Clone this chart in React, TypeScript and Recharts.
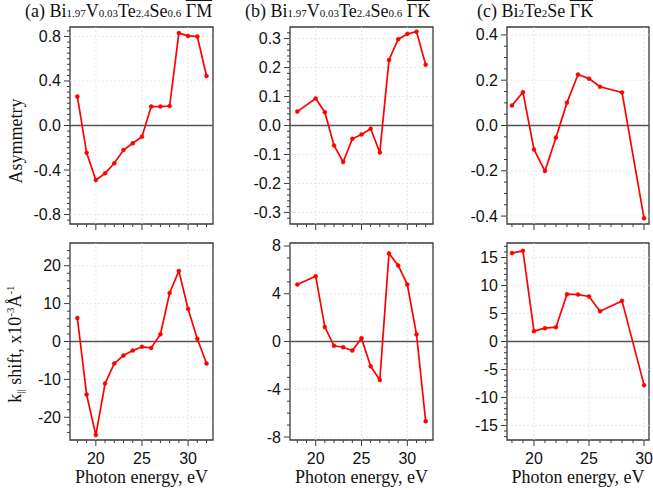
import React from 'react'
import { LineChart, Line, XAxis, YAxis, ReferenceLine, ReferenceArea } from 'recharts'

// Photon energies (eV) per sample
const ENERGY_A = [18, 19, 20, 21, 22, 23, 24, 25, 26, 27, 28, 29, 30, 31, 32]
const ENERGY_B = [18, 20, 21, 22, 23, 24, 25, 26, 27, 28, 29, 30, 31, 32]
const ENERGY_C = [18, 19, 20, 21, 22, 23, 24, 25, 26, 28, 30]

// Asymmetry (top row)
const ASYM_A = [0.26, -0.245, -0.49, -0.43, -0.34, -0.22, -0.16, -0.1, 0.17, 0.17, 0.175, 0.83, 0.805, 0.8, 0.445]
const ASYM_B = [0.048, 0.093, 0.046, -0.069, -0.126, -0.046, -0.031, -0.011, -0.093, 0.226, 0.298, 0.316, 0.324, 0.21]
const ASYM_C = [0.088, 0.147, -0.106, -0.201, -0.053, 0.101, 0.225, 0.207, 0.171, 0.146, -0.41]

// k shift, x10^-3 1/A (bottom row)
const SHIFT_A = [6.2, -14.0, -24.7, -11.1, -5.8, -3.7, -2.4, -1.4, -1.7, 1.9, 12.8, 18.6, 8.6, 0.7, -5.8]
const SHIFT_B = [4.77, 5.47, 1.21, -0.36, -0.48, -0.76, 0.28, -2.08, -3.23, 7.38, 6.37, 4.77, 0.59, -6.68]
const SHIFT_C = [15.8, 16.2, 1.85, 2.38, 2.56, 8.45, 8.39, 8.04, 5.42, 7.26, -7.8]

// labelled tick values
const X_MAJOR = [20, 25, 30]
const ASYM_TICKS_A = [-0.8, -0.4, 0, 0.4, 0.8]
const ASYM_TICKS_B = [-0.3, -0.2, -0.1, 0, 0.1, 0.2, 0.3]
const ASYM_TICKS_C = [-0.4, -0.2, 0, 0.2, 0.4]
const SHIFT_TICKS_A = [-20, -10, 0, 10, 20]
const SHIFT_TICKS_B = [-8, -4, 0, 4, 8]
const SHIFT_TICKS_C = [-15, -10, -5, 0, 5, 10, 15]

const SERIF = '"Liberation Serif", "Times New Roman", serif'
const SANS = '"Liberation Sans", Arial, sans-serif'
const AXIS = '#3a3a3a'
const RED = '#ff0000'

const PAD_L = 60
const PAD_T = 10
const PAD_B = 30
const PAD_R = 10

const steps = (from: number, to: number, step: number) => {
  const out: number[] = []
  const n = Math.round((to - from) / step)
  for (let i = 0; i <= n; i++) out.push(+(from + i * step).toFixed(4))
  return out
}

const near = (v: number, list: number[]) => list.some((m) => Math.abs(m - v) < 1e-6)

interface PanelProps {
  left: number
  top: number
  w: number
  h: number
  xs: number[]
  ys: number[]
  xDomain: [number, number]
  yDomain: [number, number]
  yMajor: number[]
  yMinor: number[]
  xMinor: number[]
  digits: number
  showXLabels: boolean
}

const Panel = (p: PanelProps) => {
  const data = p.xs.map((x, i) => ({ x, y: p.ys[i] }))
  const bottom = PAD_T + p.h

  const YTick = (props: any) => {
    const { y, payload } = props
    const v = payload.value as number
    const major = near(v, p.yMajor)
    return (
      <g>
        <line x1={PAD_L} x2={PAD_L - (major ? 6 : 3)} y1={y} y2={y} stroke={AXIS} strokeWidth={1} />
        {major && (
          <text x={PAD_L - 9} y={y} textAnchor="end" dominantBaseline="central" fontFamily={SANS} fontSize={16} fill="#111">
            {v.toFixed(p.digits)}
          </text>
        )}
      </g>
    )
  }

  const XTick = (props: any) => {
    const { x, payload } = props
    const v = payload.value as number
    const major = near(v, X_MAJOR)
    return (
      <g>
        <line x1={x} x2={x} y1={bottom} y2={bottom + (major ? 6 : 3)} stroke={AXIS} strokeWidth={1} />
        {major && p.showXLabels && (
          <text x={x} y={bottom + 18} textAnchor="middle" dominantBaseline="central" fontFamily={SANS} fontSize={16} fill="#111">
            {v}
          </text>
        )}
      </g>
    )
  }

  return (
    <div style={{ position: 'absolute', left: p.left - PAD_L, top: p.top - PAD_T }}>
      <LineChart
        width={p.w + PAD_L + PAD_R}
        height={p.h + PAD_T + PAD_B}
        data={data}
        margin={{ top: PAD_T, right: PAD_R, left: 0, bottom: 0 }}
      >
        <XAxis
          dataKey="x"
          type="number"
          domain={p.xDomain}
          allowDataOverflow
          ticks={p.xMinor}
          interval={0}
          height={PAD_B}
          axisLine={false}
          tickLine={false}
          tick={(props: any) => <XTick {...props} />}
        />
        <YAxis
          type="number"
          domain={p.yDomain}
          allowDataOverflow
          ticks={p.yMinor}
          interval={0}
          width={PAD_L}
          axisLine={false}
          tickLine={false}
          tick={(props: any) => <YTick {...props} />}
        />
        {X_MAJOR.map((v) => (
          <ReferenceLine key={`gx${v}`} x={v} stroke="#e2e2e2" strokeDasharray="2 2" strokeWidth={0.8} />
        ))}
        {p.yMajor
          .filter((v) => v !== 0)
          .map((v) => (
            <ReferenceLine key={`gy${v}`} y={v} stroke="#e2e2e2" strokeDasharray="2 2" strokeWidth={0.8} />
          ))}
        <ReferenceLine y={0} stroke="#555" strokeWidth={1.3} />
        <Line
          type="linear"
          dataKey="y"
          stroke={RED}
          strokeWidth={1.7}
          dot={{ r: 2, fill: RED, stroke: RED, strokeWidth: 0.5 }}
          isAnimationActive={false}
        />
        <ReferenceArea
          x1={p.xDomain[0]}
          x2={p.xDomain[1]}
          y1={p.yDomain[0]}
          y2={p.yDomain[1]}
          fill="none"
          stroke={AXIS}
          strokeWidth={1.3}
          ifOverflow="visible"
        />
      </LineChart>
    </div>
  )
}

const sub = (t: string) => <span style={{ fontSize: 11 }}>{t}</span>
const bar = (t: string) => <span style={{ textDecoration: 'overline' }}>{t}</span>

const Title = ({ left, children }: { left: number; children: React.ReactNode }) => (
  <div
    style={{
      position: 'absolute',
      left,
      top: 2,
      fontFamily: SERIF,
      fontSize: 18,
      lineHeight: '18px',
      whiteSpace: 'nowrap',
      color: '#111',
    }}
  >
    {children}
  </div>
)

const COLS = [70, 290, 507]
const WIDTHS = [143, 143, 142]
const ROW_TOP = 27
const ROW_BOTTOM = 243
const ROW_H = 197

export default function App() {
  return (
    <div style={{ position: 'absolute', left: 0, top: 0, width: 653, height: 490, background: '#fff' }}>
      <Title left={25}>
        (a) Bi{sub('1.97')}V{sub('0.03')}Te{sub('2.4')}Se{sub('0.6')} {bar('ΓM')}
      </Title>
      <Title left={245}>
        (b) Bi{sub('1.97')}V{sub('0.03')}Te{sub('2.4')}Se{sub('0.6')} {bar('ΓK')}
      </Title>
      <Title left={477}>
        (c) Bi{sub('2')}Te{sub('2')}Se {bar('ΓK')}
      </Title>

      <Panel left={COLS[0]} top={ROW_TOP} w={WIDTHS[0]} h={ROW_H} xs={ENERGY_A} ys={ASYM_A}
        xDomain={[17.2, 32.7]} yDomain={[-0.885, 0.885]} yMajor={ASYM_TICKS_A}
        yMinor={steps(-0.85, 0.85, 0.05)} xMinor={steps(18, 32, 1)} digits={1} showXLabels={false} />
      <Panel left={COLS[1]} top={ROW_TOP} w={WIDTHS[1]} h={ROW_H} xs={ENERGY_B} ys={ASYM_B}
        xDomain={[17.2, 32.8]} yDomain={[-0.34, 0.34]} yMajor={ASYM_TICKS_B}
        yMinor={steps(-0.32, 0.32, 0.02)} xMinor={steps(18, 32, 1)} digits={1} showXLabels={false} />
      <Panel left={COLS[2]} top={ROW_TOP} w={WIDTHS[2]} h={ROW_H} xs={ENERGY_C} ys={ASYM_C}
        xDomain={[17.55, 30.45]} yDomain={[-0.435, 0.435]} yMajor={ASYM_TICKS_C}
        yMinor={steps(-0.4, 0.4, 0.05)} xMinor={steps(18, 30, 1)} digits={1} showXLabels={false} />

      <Panel left={COLS[0]} top={ROW_BOTTOM} w={WIDTHS[0]} h={ROW_H} xs={ENERGY_A} ys={SHIFT_A}
        xDomain={[17.2, 32.7]} yDomain={[-26, 26]} yMajor={SHIFT_TICKS_A}
        yMinor={steps(-24, 24, 2)} xMinor={steps(18, 32, 1)} digits={0} showXLabels />
      <Panel left={COLS[1]} top={ROW_BOTTOM} w={WIDTHS[1]} h={ROW_H} xs={ENERGY_B} ys={SHIFT_B}
        xDomain={[17.2, 32.8]} yDomain={[-8.25, 8.25]} yMajor={SHIFT_TICKS_B}
        yMinor={steps(-8, 8, 1)} xMinor={steps(18, 32, 1)} digits={0} showXLabels />
      <Panel left={COLS[2]} top={ROW_BOTTOM} w={WIDTHS[2]} h={ROW_H} xs={ENERGY_C} ys={SHIFT_C}
        xDomain={[17.55, 30.45]} yDomain={[-17.6, 17.6]} yMajor={SHIFT_TICKS_C}
        yMinor={steps(-17, 17, 1)} xMinor={steps(18, 30, 1)} digits={0} showXLabels />

      <svg width={653} height={490} style={{ position: 'absolute', left: 0, top: 0, pointerEvents: 'none' }}>
        <text transform="translate(22,141) rotate(-90)" textAnchor="middle" fontFamily={SERIF} fontSize={18} fill="#111">
          Asymmetry
        </text>
        <text transform="translate(21,344) rotate(-90)" textAnchor="middle" fontFamily={SERIF} fontSize={18} fill="#111">
          k
          <tspan fontSize={11} dy={3}>||</tspan>
          <tspan dy={-3}> shift, x10</tspan>
          <tspan fontSize={11} dy={-7}>-3</tspan>
          <tspan dy={7}>Å</tspan>
          <tspan fontSize={11} dy={-7}>-1</tspan>
        </text>
        {COLS.map((c, i) => (
          <text key={c} x={c + WIDTHS[i] / 2} y={483} textAnchor="middle" fontFamily={SERIF} fontSize={18} fill="#111">
            Photon energy, eV
          </text>
        ))}
      </svg>
    </div>
  )
}
